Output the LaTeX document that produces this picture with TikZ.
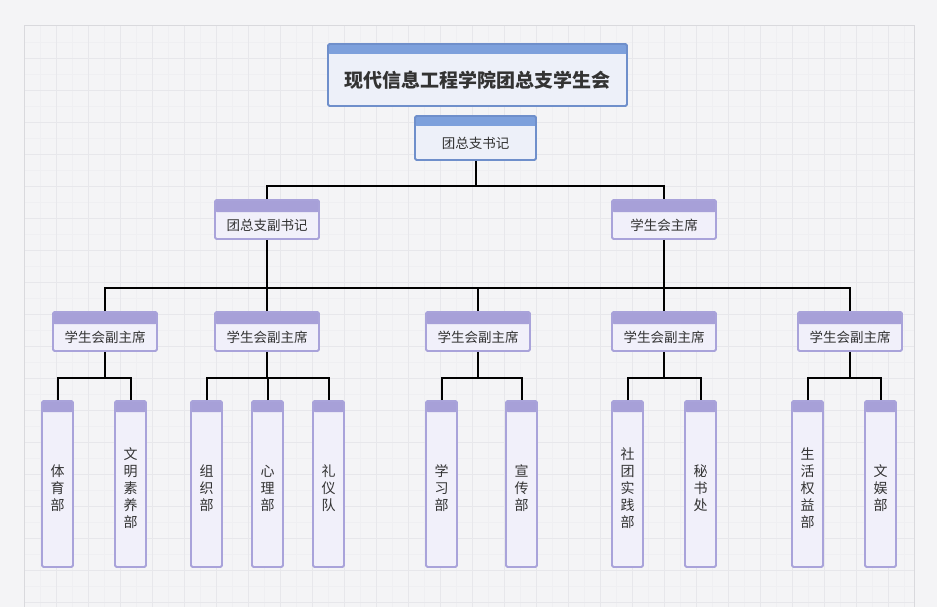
\documentclass[tikz,border=0pt]{standalone}
\usepackage{fontspec}
\setmainfont{Noto Sans CJK SC}
\usetikzlibrary{calc}
\definecolor{bgc}{HTML}{F4F4F6}
\definecolor{gridmaj}{HTML}{E7E7EB}
\definecolor{gridmin}{HTML}{EFEFF2}
\definecolor{gridbd}{HTML}{D9D9DD}
\definecolor{bhdr}{HTML}{7DA0DC}
\definecolor{bbd}{HTML}{6F8FCB}
\definecolor{bfill}{HTML}{EDF0F9}
\definecolor{phdr}{HTML}{A7A0D8}
\definecolor{pbd}{HTML}{A9A3DA}
\definecolor{pfill}{HTML}{F1F0FA}
\definecolor{txt}{HTML}{333333}
\tikzset{
  hdr/.style 2 args={path picture={\fill[#1] (path picture bounding box.north west) rectangle ([yshift=-#2]path picture bounding box.north east);}},
  bluebox/.style={draw=bbd, fill=bfill, line width=1.8pt, rounded corners=1.5pt, hdr={bhdr}{10pt}},
  purpbox/.style={draw=pbd, fill=pfill, line width=1.8pt, rounded corners=1.5pt, hdr={phdr}{12pt}},
  deptbox/.style={draw=pbd, fill=pfill, line width=1.8pt, rounded corners=1.5pt, hdr={phdr}{11pt}, minimum width=31pt, minimum height=166pt, inner sep=0pt},
  vbox/.style={purpbox, minimum width=104pt, minimum height=39pt, inner sep=0pt},
  lbl/.style={text=txt, font=\fontsize{13.5}{16}\selectfont, inner sep=0pt},
  vlbl/.style={text=txt, font=\fontsize{14}{17}\selectfont, inner sep=0pt, align=center},
  conn/.style={draw=black, line width=2pt},
}
\begin{document}
\begin{tikzpicture}[x=1pt,y=-1pt]
\useasboundingbox (0,0) rectangle (937,607);
\fill[bgc] (0,0) rectangle (937,607);
% grid
\foreach \x in {40,72,...,914} \draw[gridmin, line width=0.6pt] (\x,26) -- (\x,607);
\foreach \y in {42,74,...,607} \draw[gridmin, line width=0.6pt] (24,\y) -- (914,\y);
\foreach \x in {56,88,...,914} \draw[gridmaj, line width=0.8pt] (\x,26) -- (\x,607);
\foreach \y in {58,90,...,607} \draw[gridmaj, line width=0.8pt] (24,\y) -- (914,\y);
\draw[gridbd, line width=1pt] (24,607) -- (24,26) -- (914,26) -- (914,607);

% title
\node[bluebox, minimum width=299pt, minimum height=62pt, inner sep=0pt] (title) at (477.5,75) {};
\node[text=txt, font=\fontsize{19}{22}\selectfont\bfseries, inner sep=0pt] (ttitle) at ($(title.center)+(0,5)$) {现代信息工程学院团总支学生会};
% secretary
\node[bluebox, minimum width=121pt, minimum height=44pt, inner sep=0pt] (sec) at (475.5,138) {};
\node[lbl] (tsec) at ($(sec.center)+(0,5)$) {团总支书记};

% level 2
\node[vbox] (fsj) at (267,219.5) {};
\node[lbl] (tfsj) at ($(fsj.center)+(0,6)$) {团总支副书记};
\node[vbox] (xsh) at (664,219.5) {};
\node[lbl] (txsh) at ($(xsh.center)+(0,6)$) {学生会主席};

% level 3
\foreach \i/\x in {1/105,2/267,3/478,4/664,5/850}{
  \node[vbox] (v\i) at (\x,331.5) {};
  \node[lbl] (tv\i) at ($(v\i.center)+(0,6)$) {学生会副主席};
}

% departments
\foreach \n/\x/\t in {d11/57.5/体\\育\\部, d12/130.5/文\\明\\素\\养\\部,
                      d21/206.5/组\\织\\部, d22/267.5/心\\理\\部, d23/328.5/礼\\仪\\队,
                      d31/441.5/学\\习\\部, d32/521.5/宣\\传\\部,
                      d41/627.5/社\\团\\实\\践\\部, d42/700.5/秘\\书\\处,
                      d51/807.5/生\\活\\权\\益\\部, d52/880.5/文\\娱\\部}{
  \node[deptbox] (\n) at (\x,484) {};
  \node[vlbl] (t\n) at ($(\n.center)+(0,4)$) {\t};
}

% connectors
\coordinate (j1) at (475.5,186);
\draw[conn] (sec.south) -- (j1);
\draw[conn] (fsj.north) |- (j1) -| (xsh.north);

\coordinate (j2) at (478,288);
\draw[conn] (fsj.south) -- (fsj.south |- j2);
\draw[conn] (xsh.south) -- (xsh.south |- j2);
\draw[conn] (v1.north) |- (j2) -| (v5.north);
\draw[conn] (v2.north) -- (v2.north |- j2);
\draw[conn] (v3.north) -- (v3.north |- j2);
\draw[conn] (v4.north) -- (v4.north |- j2);

\foreach \v/\a/\b in {v1/d11/d12, v3/d31/d32, v4/d41/d42, v5/d51/d52}{
  \coordinate (k\v) at ($(\v.south)+(0,26)$);
  \draw[conn] (\v.south) -- (k\v);
  \draw[conn] (\a.north) |- (k\v) -| (\b.north);
}
\coordinate (kv2) at ($(v2.south)+(0,26)$);
\draw[conn] (v2.south) -- (kv2);
\draw[conn] (d21.north) |- (kv2) -| (d23.north);
\draw[conn] (d22.north) -- (d22.north |- kv2);
\end{tikzpicture}
\end{document}
